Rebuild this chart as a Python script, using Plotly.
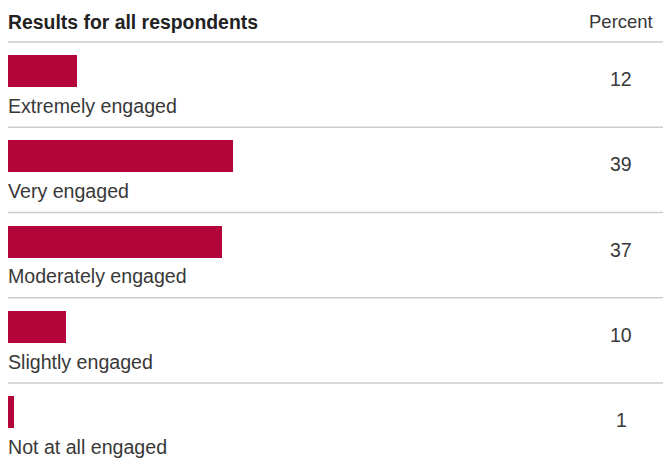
import plotly.graph_objects as go

categories = ["Extremely engaged", "Very engaged", "Moderately engaged", "Slightly engaged", "Not at all engaged"]
values = [12, 39, 37, 10, 1]
title_text = "Results for all respondents"
unit_text = "Percent"

BAR_COLOR = "#B30539"
TEXT_COLOR = "#383838"
LINE_COLOR = "#CCCCCC"
FONT = "Liberation Sans, Arial, sans-serif"

# page has an 8px body margin, so the figure is drawn 8px in from the top-left
OFF = 8
W, H = 671 - OFF, 464 - OFF
px_per_unit = 5.78
x0 = 0
x1 = W / px_per_unit

row_h = 85.25
first_center = 71 - OFF
y_top = -first_center / row_h
y_bot = (H - first_center) / row_h

idx = list(range(len(categories)))

fig = go.Figure()
fig.add_trace(go.Bar(
    x=values, y=idx, orientation="h",
    marker=dict(color=BAR_COLOR, line=dict(width=0)),
    width=32 / row_h, hoverinfo="skip", showlegend=False,
))

annotations = []
shapes = []
for i, (c, v) in enumerate(zip(categories, values)):
    annotations.append(dict(
        x=0, y=i + 0.41, xref="x", yref="y", text=c, showarrow=False,
        xanchor="left", yanchor="middle", xshift=-2,
        font=dict(family=FONT, size=19.6, color=TEXT_COLOR),
    ))
    annotations.append(dict(
        x=(621 - OFF) / W, y=i + 0.094, xref="paper", yref="y", text=str(v), showarrow=False,
        xanchor="center", yanchor="middle",
        font=dict(family=FONT, size=19.5, color=TEXT_COLOR),
    ))
    shapes.append(dict(
        type="line", xref="paper", yref="y", x0=0, x1=1,
        y0=i - 0.34, y1=i - 0.34, line=dict(color=LINE_COLOR, width=1.5),
    ))

annotations.append(dict(
    x=0, y=1 - (22 - OFF) / H, xref="paper", yref="paper", text="<b>" + title_text + "</b>",
    showarrow=False, xanchor="left", yanchor="middle", xshift=-2,
    font=dict(family=FONT, size=19.4, color="#222222"),
))
annotations.append(dict(
    x=(621 - OFF) / W, y=1 - (22 - OFF) / H, xref="paper", yref="paper", text=unit_text,
    showarrow=False, xanchor="center", yanchor="middle",
    font=dict(family=FONT, size=18.5, color=TEXT_COLOR),
))

fig.update_layout(
    width=W, height=H,
    margin=dict(l=0, r=0, t=0, b=0),
    paper_bgcolor="white", plot_bgcolor="white",
    xaxis=dict(range=[x0, x1], visible=False, fixedrange=True),
    yaxis=dict(range=[y_bot, y_top], visible=False, fixedrange=True),
    annotations=annotations, shapes=shapes,
    bargap=0,
)

fig.write_html("out.html")
